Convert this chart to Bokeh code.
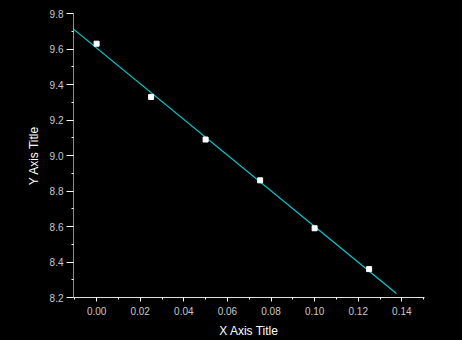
import numpy as np
from bokeh.plotting import figure
from bokeh.models import Range1d, FixedTicker
from bokeh.embed import file_html
from bokeh.resources import INLINE

# data
x_vals = [0.000, 0.025, 0.050, 0.075, 0.100, 0.125]
y_vals = [9.63, 9.33, 9.09, 8.86, 8.59, 8.36]
fit_x = [-0.0106, 0.1375]
x_ticks = [0.00, 0.02, 0.04, 0.06, 0.08, 0.10, 0.12, 0.14]
y_ticks = [8.2, 8.4, 8.6, 8.8, 9.0, 9.2, 9.4, 9.6, 9.8]
x_minor = [-0.01, 0.01, 0.03, 0.05, 0.07, 0.09, 0.11, 0.13, 0.15]
y_minor = [8.3, 8.5, 8.7, 8.9, 9.1, 9.3, 9.5, 9.7]

slope, intercept = np.polyfit(x_vals, y_vals, 1)
fit_y = [intercept + slope * v for v in fit_x]

p = figure(width=462, height=340, output_backend="svg", toolbar_location=None,
           x_range=Range1d(-0.0106, 0.1504), y_range=Range1d(8.2, 9.8),
           min_border_left=73, min_border_right=38, min_border_top=13, min_border_bottom=42,
           background_fill_color="black", border_fill_color="black")
p.outline_line_color = None
p.xgrid.visible = False
p.ygrid.visible = False

p.line(fit_x, fit_y, line_color="#00CED1", line_width=1.2)
p.scatter(x_vals, y_vals, marker="square", size=5, fill_color="white", line_color="white")

font = "Liberation Sans"
p.xaxis.ticker = FixedTicker(ticks=x_ticks, minor_ticks=x_minor)
p.yaxis.ticker = FixedTicker(ticks=y_ticks, minor_ticks=y_minor)
p.xaxis.major_label_overrides = {t: f"{t:.2f}" for t in x_ticks}
p.yaxis.major_label_overrides = {t: f"{t:.1f}" for t in y_ticks}

p.xaxis.axis_label = "X Axis Title"
p.yaxis.axis_label = "Y Axis Title"
for ax in (p.xaxis[0], p.yaxis[0]):
    ax.axis_label_text_color = "white"
    ax.axis_label_text_font = font
    ax.axis_label_text_font_size = "12px"
    ax.axis_label_text_font_style = "normal"
    ax.major_label_text_color = "#C8C8C8"
    ax.major_label_text_font = font
    ax.major_label_text_font_size = "10px"
    ax.major_tick_line_color = "white"
    ax.minor_tick_line_color = "white"
    ax.major_tick_in = 0
    ax.minor_tick_in = 0

p.xaxis.axis_line_color = "#E0E0E0"
p.yaxis.axis_line_color = "#909090"
p.xaxis.major_tick_out = 4
p.xaxis.minor_tick_out = 2
p.yaxis.major_tick_out = 7
p.yaxis.minor_tick_out = 2
p.xaxis.major_label_standoff = 5
p.xaxis.axis_label_standoff = 6
p.yaxis.major_label_standoff = 3
p.yaxis.axis_label_standoff = 6

html = file_html(p, INLINE)
html = html.replace("</head>", "<style>html, body { background: #000000; }</style></head>", 1)
open("out.html", "w").write(html)
